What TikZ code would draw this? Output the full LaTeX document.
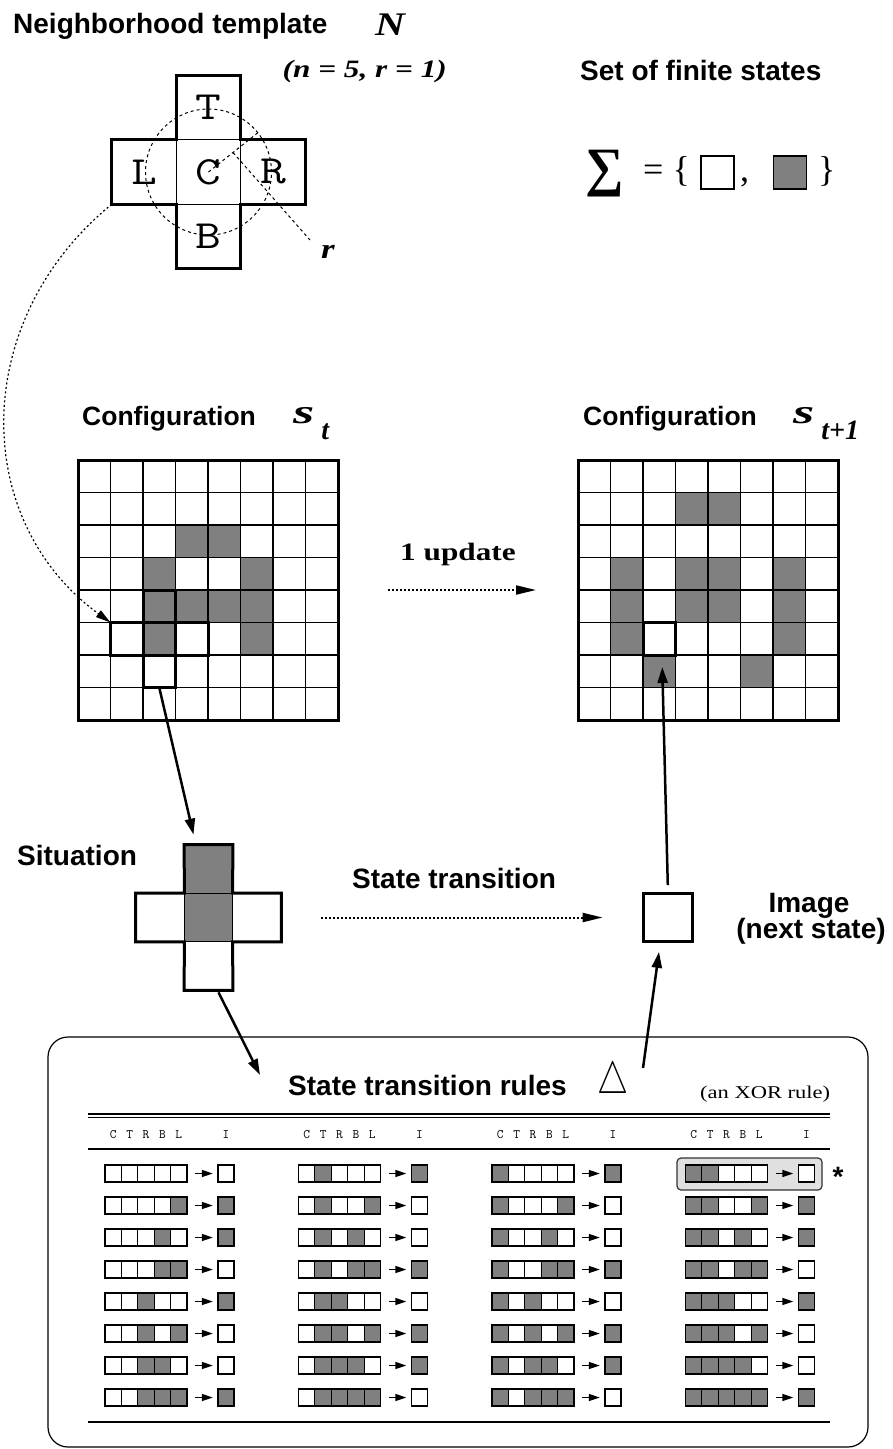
\documentclass[tikz,border=0pt]{standalone}
\usepackage{fontspec}
\usepackage{graphicx}
\usetikzlibrary{arrows.meta,positioning,calc}
\newfontfamily\helv{Liberation Sans}
\newfontfamily\timesf{Liberation Serif}
\definecolor{cagray}{gray}{0.5}
\definecolor{hlgray}{gray}{0.88}
\colorlet{st0}{white}
\colorlet{st1}{cagray}
\newcommand\wider[1]{\scalebox{1.25}[1]{#1}}

\begin{document}
\begin{tikzpicture}[
    x=1pt, y=-1pt,
    lbl/.style={font=\helv\bfseries\fontsize{28}{28}\selectfont, inner sep=0, anchor=base west},
    ital/.style={font=\timesf\bfseries\itshape\fontsize{#1}{#1}\selectfont, inner sep=0, anchor=base west},
    tcell/.style={draw, line width=1.2pt, minimum size=64.5pt, inner sep=0, outer sep=0,
      font=\ttfamily\fontsize{40}{40}\selectfont},
    scell/.style={draw, line width=1.2pt, minimum size=48.7pt, inner sep=0, outer sep=0},
    hcell/.style={draw, line width=3pt, minimum size=32.5pt, inner sep=0, outer sep=0},
    frame/.style={draw, line width=3pt, minimum size=260pt, inner sep=0, outer sep=0},
    stbox/.style={draw, line width=1.5pt, minimum size=33pt, inner sep=0},
    rcell/.style={draw, line width=1pt, minimum width=16.4pt, minimum height=17pt, inner sep=0, outer sep=0},
    hdr/.style={font=\ttfamily\fontsize{13}{13}\selectfont, inner sep=0, anchor=base},
    solidarr/.style={line width=2.5pt, -{Triangle[length=16pt,width=10pt]}},
    dotarr/.style={line width=2pt, dash pattern=on 2pt off 2pt, -{Triangle[length=20pt,width=9pt]}},
    dotarc/.style={line width=1.2pt, dash pattern=on 2pt off 2.5pt, -{Triangle[length=15pt,width=8pt]}},
    fine/.style={line width=1pt, dash pattern=on 3pt off 3pt},
    rarr/.style={line width=1.5pt, shorten <=8pt, shorten >=5pt, -{Triangle[length=11pt,width=7pt]}}
  ]
  \useasboundingbox (0,0) rectangle (892,1449);

  \node[lbl] (tmplLbl) at (13,33) {Neighborhood template};
  \node[ital=33] (nLbl) at (375,35) {\wider{N}};
  \node[ital=25, anchor=base east] (nrLbl) at (447,77) {\wider{(n = 5, r = 1)}};

  \node[tcell] (tC) at (208.5,172) {\wider{C}};
  \node[tcell] (tT) at (208.5,107.5) {\wider{T}};
  \node[tcell] (tB) at (208.5,236.5) {\wider{B}};
  \node[tcell] (tL) at (144,172) {\wider{L}};
  \node[tcell] (tR) at (273,172) {\wider{R}};
  \draw[line width=3pt] (tT.north west) -- (tT.north east) -- (tR.north west) -- (tR.north east)
    -- (tR.south east) -- (tR.south west) -- (tB.south east) -- (tB.south west)
    -- (tL.south east) -- (tL.south west) -- (tL.north west) -- (tL.north east) -- cycle;
  \draw[fine] (tC.center) circle[radius=63pt];
  \coordinate (rEnd) at ([shift={(49,-39)}]tC.center);
  \coordinate (rTip) at (310,240);
  \draw[fine] (tC.center) -- (rEnd);
  \draw[fine] ($(tC.center)!0.5!(rEnd)$) -- (rTip);
  \node[ital=28] (rLbl) at (321,258) {\wider{r}};

  \node[lbl] (setLbl) at (580,80) {Set of finite states};
  \node[inner sep=0, font=\timesf\bfseries\fontsize{54}{54}\selectfont] (sigma) at (604.5,173.5) {∑};
  \node[inner sep=0, anchor=base west, font=\timesf\fontsize{36}{36}\selectfont] (eqLbl) at (643,181) {= \{};
  \node[stbox] (s0) at (717.5,172.5) {};
  \node[inner sep=0, anchor=base west, font=\timesf\fontsize{36}{36}\selectfont] (comma) at (740,181) {,};
  \node[stbox, fill=cagray] (s1) at (790,172.5) {};
  \node[inner sep=0, anchor=base west, font=\timesf\fontsize{36}{36}\selectfont] (rbrace) at (818,181) {\}};

  \node[lbl] (cfgA) at (82,425) {\fontsize{26.5}{26.5}\selectfont Configuration};
  \node[ital=34] (stA) at (293,423) {\scalebox{1.6}[1]{s}\hspace{7pt}\raisebox{-16pt}{\fontsize{28}{28}\selectfont t}};
  \node[lbl] (cfgB) at (583,425) {\fontsize{26.5}{26.5}\selectfont Configuration};
  \node[ital=34] (stB) at (793,423) {\scalebox{1.6}[1]{s}\hspace{7pt}\raisebox{-16pt}{\fontsize{28}{28}\selectfont t+1}};

  \begin{scope}[shift={(78,460)}, x=32.5pt, y=-32.5pt]
    \foreach \c/\r in {3/2,4/2,2/3,5/3,2/4,3/4,4/4,5/4,2/5,5/5}
      \fill[cagray] (\c,\r) rectangle ++(1,1);
    \foreach \i in {1,...,7}
      \draw[line width=1.8pt] (\i,0) -- (\i,8) (0,\i) -- (8,\i);
    \node[frame] (gA) at (4,4) {};
    \node[hcell] (cT) at (2.5,4.5) {};
    \node[hcell] (cL) at (1.5,5.5) {};
    \node[hcell] (cC) at (2.5,5.5) {};
    \node[hcell] (cR) at (3.5,5.5) {};
    \node[hcell] (cB) at (2.5,6.5) {};
  \end{scope}

  \begin{scope}[shift={(578,460)}, x=32.5pt, y=-32.5pt]
    \foreach \c/\r in {3/1,4/1,1/3,3/3,4/3,6/3,1/4,3/4,4/4,6/4,1/5,6/5,2/6,5/6}
      \fill[cagray] (\c,\r) rectangle ++(1,1);
    \foreach \i in {1,...,7}
      \draw[line width=1.8pt] (\i,0) -- (\i,8) (0,\i) -- (8,\i);
    \node[frame] (gB) at (4,4) {};
    \node[hcell] (nC) at (2.5,5.5) {};
  \end{scope}

  \node[font=\timesf\bfseries\fontsize{25}{25}\selectfont, inner sep=0, anchor=base west] (updLbl)
    at (400,560) {\wider{1 update}};
  \draw[dotarr, shorten <=50pt, shorten >=42pt] (gA.east) -- (gB.west);

  \node[lbl] (sitLbl) at (17,865) {Situation};
  \node[scell, fill=cagray] (sT) at (208.5,869) {};
  \node[scell] (sL) at (160,917.5) {};
  \node[scell, fill=cagray] (sC) at (208.5,917.5) {};
  \node[scell] (sR) at (257,917.5) {};
  \node[scell] (sB) at (208.5,966) {};
  \draw[line width=3pt] (sT.north west) -- (sT.north east) -- (sR.north west) -- (sR.north east)
    -- (sR.south east) -- (sR.south west) -- (sB.south east) -- (sB.south west)
    -- (sL.south east) -- (sL.south west) -- (sL.north west) -- (sL.north east) -- cycle;

  \node[lbl] (transLbl) at (352,888) {State transition};
  \node[scell, line width=3pt] (img) at (668,917.5) {};
  \node[lbl, anchor=base] (imgLbl) at (809,912) {Image};
  \node[lbl, anchor=base] (nextLbl) at (811,938) {(next state)};
  \draw[dotarr, shorten <=40pt, shorten >=41pt] (sR.east) -- (img.west);

  \draw[dotarc] (tL.south west) .. controls (-30,320) and (-30,520) .. (cL.north west);
  \draw[solidarr] (cB.south) -- ([shift={(-15,-10)}]sT.north);
  \draw[solidarr, shorten <=8pt] (img.north) -- ([shift={(3,12)}]nC.south);

  \draw[line width=1.2pt, rounded corners=20pt] (48,1037) rectangle (868,1447);
  \node[lbl] (rulesLbl) at (288,1095) {State transition rules};
  \node[inner sep=0] (delta) at (613,1082) {\scalebox{3.5}[4.5]{$\bigtriangleup$}};
  \node[font=\timesf\fontsize{18}{18}\selectfont, inner sep=0, anchor=base west] (xorLbl)
    at (700,1098) {\wider{(an XOR rule)}};
  \coordinate (rulesIn) at (260,1075);
  \coordinate (rulesOut) at (643,1068);
  \draw[solidarr] ([shift={(10,2)}]sB.south) -- (rulesIn);
  \draw[solidarr] (rulesOut) -- ([shift={(-9,10)}]img.south);

  \draw[line width=1.2pt] (88,1114) -- (830,1114) (88,1117.5) -- (830,1117.5);
  \draw[line width=1.2pt] (88,1149) -- (830,1149);
  \draw[line width=1.5pt] (88,1422) -- (830,1422);

  \draw[fill=hlgray, draw=black!80, line width=1.2pt, rounded corners=4pt] (677,1158) rectangle (822,1190);
  \node[lbl, anchor=base] (star) at (838,1186) {*};

  \foreach \c in {0,...,3}{
    \foreach \k/\ch in {0/C,1/T,2/R,3/B,4/L}
      \node[hdr] (h\c-\k) at ({105+193.5*\c+16.4*\k+8.2},1138) {\ch};
    \node[hdr] (h\c-i) at ({105+193.5*\c+121},1138) {I};
    \foreach \r in {0,...,7}{
      \pgfmathtruncatemacro\code{8*\c+\r}
      \pgfmathtruncatemacro\outbit{mod(\code+floor(\code/2)+floor(\code/4)+floor(\code/8)+floor(\code/16),2)}
      \foreach \k in {0,...,4}{
        \pgfmathtruncatemacro\bit{mod(floor(\code/2^(4-\k)),2)}
        \node[rcell, fill=st\bit] (r\c-\r-\k) at ({105+193.5*\c+16.4*\k+8.2},{1173.5+32*\r}) {};
      }
      \draw[line width=1.8pt] (r\c-\r-0.north west) rectangle (r\c-\r-4.south east);
      \node[rcell, fill=st\outbit, line width=1.5pt] (i\c-\r) at ({105+193.5*\c+121},{1173.5+32*\r}) {};
      \draw[rarr] (r\c-\r-4.east) -- (i\c-\r.west);
    }
  }
\end{tikzpicture}
\end{document}
